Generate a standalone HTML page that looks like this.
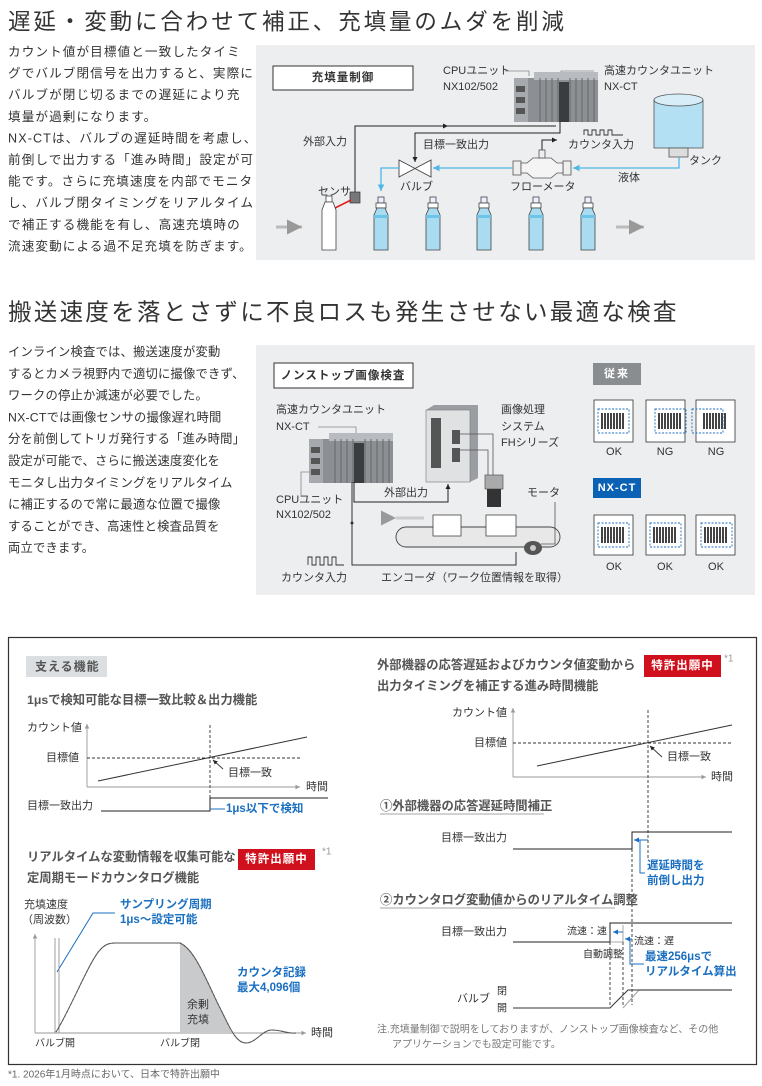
<!DOCTYPE html>
<html><head><meta charset="utf-8"><style>
html,body{margin:0;padding:0;background:#fff;}
svg{display:block;}
text{font-family:"Liberation Sans","Noto Sans CJK JP",sans-serif;dominant-baseline:central;fill:#333;}
.p{font-size:12.6px;letter-spacing:1.1px;fill:#444;}
.p2{font-size:12.3px;letter-spacing:0.2px;fill:#444;}
.s{font-size:11px;fill:#333;}
.b{font-weight:bold;}
.bl{fill:#1a6fc0;font-weight:bold;font-size:11.5px;}
.h3{font-size:12.3px;font-weight:bold;fill:#555;letter-spacing:0px;}
</style></head><body>
<svg width="762" height="1086" viewBox="0 0 762 1086" xmlns="http://www.w3.org/2000/svg">
<defs>
<marker id="ab" markerWidth="6" markerHeight="6" refX="5" refY="3" orient="auto"><path d="M0,0.5 L5,3 L0,5.5z" fill="#222"/></marker>
<marker id="ag" markerWidth="6" markerHeight="6" refX="5" refY="3" orient="auto"><path d="M0,0.5 L5,3 L0,5.5z" fill="#999"/></marker>
<marker id="ac" markerWidth="6" markerHeight="6" refX="5" refY="3" orient="auto"><path d="M0,0.5 L5,3 L0,5.5z" fill="#4bb8e6"/></marker>
<marker id="au" markerWidth="6" markerHeight="6" refX="5" refY="3" orient="auto"><path d="M0,0.5 L5,3 L0,5.5z" fill="#1a6fc0"/></marker>
<g id="plc">
<rect x="0" y="6" width="84" height="44" fill="#8c9094"/>
<rect x="0" y="6" width="14" height="44" fill="#a6aaae"/>
<rect x="2" y="14" width="9" height="6" fill="#555"/><rect x="2" y="25" width="9" height="6" fill="#555"/><rect x="2" y="36" width="9" height="6" fill="#555"/>
<rect x="20" y="0" width="64" height="8" fill="#b8bcc0"/>
<path d="M26,6V50M32,6V50M38,6V50M44,6V50M56,6V50M62,6V50M68,6V50M74,6V50M80,6V50" stroke="#666" stroke-width="1"/>
<rect x="45" y="10" width="10" height="40" fill="#3a3d40"/>
</g>
<g id="bot">
<rect x="-3" y="0" width="6" height="6" fill="#eef" stroke="#444" stroke-width="0.8"/>
<rect x="-5" y="6" width="10" height="5" fill="#fff" stroke="#444" stroke-width="0.8"/>
<path d="M-4,11 L-7,18 L-7,53 L7,53 L7,18 L4,11z" fill="#a9dcf0" stroke="#444" stroke-width="0.8"/>
<rect x="-7" y="18" width="14" height="3" fill="#6cc4e8"/>
</g>
<g id="cod"><path d="M8,6V22M11,6V22M14,6V22M17,6V22M20,6V22M23,6V22M26,6V22M29,6V22" stroke="#444" stroke-width="2"/></g>
</defs>

<!-- headings -->
<text x="8" y="22" style="font-size:22.5px;letter-spacing:2.9px;fill:#333">遅延・変動に合わせて補正、充填量のムダを削減</text>
<text x="8" y="312" style="font-size:23.5px;letter-spacing:2.3px;fill:#333">搬送速度を落とさずに不良ロスも発生させない最適な検査</text>

<!-- para 1 -->
<g class="p">
<text x="8" y="52">カウント値が目標値と一致したタイミ</text>
<text x="8" y="73.6">グでバルブ閉信号を出力すると、実際に</text>
<text x="8" y="95.2">バルブが閉じ切るまでの遅延により充</text>
<text x="8" y="116.8">填量が過剰になります。</text>
<text x="8" y="138.4">NX-CTは、バルブの遅延時間を考慮し、</text>
<text x="8" y="160">前倒しで出力する「進み時間」設定が可</text>
<text x="8" y="181.6">能です。さらに充填速度を内部でモニタ</text>
<text x="8" y="203.2">し、バルブ閉タイミングをリアルタイム</text>
<text x="8" y="224.8">で補正する機能を有し、高速充填時の</text>
<text x="8" y="246.4">流速変動による過不足充填を防ぎます。</text>
</g>
<!-- para 2 -->
<g class="p2">
<text x="8" y="352">インライン検査では、搬送速度が変動</text>
<text x="8" y="373.8">するとカメラ視野内で適切に撮像できず、</text>
<text x="8" y="395.6">ワークの停止か減速が必要でした。</text>
<text x="8" y="417.4">NX-CTでは画像センサの撮像遅れ時間</text>
<text x="8" y="439.2">分を前倒してトリガ発行する「進み時間」</text>
<text x="8" y="461">設定が可能で、さらに搬送速度変化を</text>
<text x="8" y="482.8">モニタし出力タイミングをリアルタイム</text>
<text x="8" y="504.6">に補正するので常に最適な位置で撮像</text>
<text x="8" y="526.4">することができ、高速性と検査品質を</text>
<text x="8" y="548.2">両立できます。</text>
</g>

<!-- panel 1 -->
<rect x="256" y="45" width="499" height="215" fill="#eceef0"/>
<rect x="273" y="66" width="140" height="24" fill="#fff" stroke="#333" stroke-width="1"/>
<text x="343" y="78" text-anchor="middle" style="font-size:11.5px;font-weight:bold;letter-spacing:1px">充填量制御</text>
<text x="443" y="71" class="s">CPUユニット</text><text x="443" y="87" class="s">NX102/502</text>
<text x="604" y="71" class="s">高速カウンタユニット</text><text x="604" y="87" class="s">NX-CT</text>
<path d="M505,71H529V76M594,71H561V76" stroke="#888" fill="none" stroke-width="0.8"/>
<use href="#plc" x="514" y="72"/>
<rect x="654" y="100" width="49" height="48" fill="#b3e0f2" stroke="#555" stroke-width="0.8"/>
<ellipse cx="678.5" cy="100" rx="24.5" ry="6" fill="#d7eef8" stroke="#555" stroke-width="0.8"/>
<rect x="669" y="148" width="19" height="9" fill="#ddd" stroke="#555" stroke-width="0.8"/>
<text x="689" y="161" class="s">タンク</text>
<path d="M679,157V168H573" stroke="#4bb8e6" stroke-width="1.3" fill="none" marker-end="url(#ac)"/>
<text x="618" y="178" class="s">液体</text>
<rect x="513" y="161" width="8" height="14" fill="#eee" stroke="#555" stroke-width="0.8"/>
<rect x="563" y="161" width="8" height="14" fill="#eee" stroke="#555" stroke-width="0.8"/>
<path d="M521,163H527L533,158H551L557,163H563V173H557L551,178H533L527,173H521z" fill="#f4f4f4" stroke="#555" stroke-width="0.8"/>
<rect x="539" y="150" width="6" height="8" fill="#eee" stroke="#555" stroke-width="0.8"/>
<text x="510" y="187" class="s">フローメータ</text>
<path d="M513,168H433" stroke="#4bb8e6" stroke-width="1.3" fill="none" marker-end="url(#ac)"/>
<path d="M399,160L431,177V160L399,177z" fill="#fff" stroke="#444" stroke-width="0.9"/>
<text x="400" y="187" class="s">バルブ</text>
<path d="M399,168H381V191" stroke="#4bb8e6" stroke-width="1.3" fill="none" marker-end="url(#ac)"/>
<path d="M560,122V133H415V162" stroke="#222" stroke-width="1" fill="none" marker-end="url(#ab)"/>
<path d="M355,192V126H556" stroke="#222" stroke-width="1" fill="none"/>
<path d="M440,126H448" stroke="#222" marker-end="url(#ab)"/>
<path d="M542,150V140H557" stroke="#222" stroke-width="1" fill="none" marker-end="url(#ab)"/>
<text x="303" y="142" class="s">外部入力</text>
<text x="423" y="145" class="s">目標一致出力</text>
<path d="M584,135V130H588V135H592V130H596V135H600V130H604V135H608V130H612V135H623" stroke="#333" fill="none" stroke-width="0.9"/>
<text x="568" y="145" class="s">カウンタ入力</text>
<text x="318" y="192" class="s">センサ</text>
<rect x="350" y="192" width="10" height="11" fill="#777" stroke="#333" stroke-width="0.7"/>
<path d="M351,200L333,209" stroke="#e02020" stroke-width="1.6"/>
<g transform="translate(329,196)"><rect x="-3" y="0" width="6" height="6" fill="#fff" stroke="#444" stroke-width="0.8"/><path d="M-4,6 L-7,14 L-7,54 L7,54 L7,14 L4,6z" fill="#fff" stroke="#444" stroke-width="0.8"/></g>
<use href="#bot" x="381" y="197"/><use href="#bot" x="433" y="197"/><use href="#bot" x="484" y="197"/><use href="#bot" x="536" y="197"/><use href="#bot" x="588" y="197"/>
<path d="M276,227H302" stroke="#bbb" stroke-width="3" marker-end="url(#ag)"/>
<path d="M616,227H644" stroke="#bbb" stroke-width="3" marker-end="url(#ag)"/>

<!-- panel 2 -->
<rect x="256" y="345" width="499" height="250" fill="#eceef0"/>
<rect x="274" y="363" width="139" height="25" fill="#fff" stroke="#333" stroke-width="1"/>
<text x="343" y="376" text-anchor="middle" style="font-size:11.5px;font-weight:bold;letter-spacing:1px">ノンストップ画像検査</text>
<text x="276" y="410" class="s">高速カウンタユニット</text><text x="276" y="427" class="s">NX-CT</text>
<path d="M318,427H356V434" stroke="#888" fill="none" stroke-width="0.8"/>
<use href="#plc" x="309" y="433"/>
<path d="M311,472H301V497" stroke="#888" fill="none" stroke-width="0.8"/>
<text x="276" y="500" class="s">CPUユニット</text><text x="276" y="515" class="s">NX102/502</text>
<path d="M426,410L434,405H478V478L470,482H426z" fill="#9a9ea2"/>
<rect x="426" y="410" width="44" height="72" fill="#dfe1e3" stroke="#777" stroke-width="0.6"/>
<rect x="431" y="418" width="10" height="50" fill="#555"/><rect x="452" y="430" width="8" height="14" fill="#555"/><rect x="452" y="448" width="8" height="14" fill="#555"/>
<text x="501" y="410" class="s">画像処理</text><text x="501" y="427" class="s">システム</text><text x="501" y="443" class="s">FHシリーズ</text>
<path d="M460,434H493V476M460,450H488V476" stroke="#555" fill="none" stroke-width="0.8"/>
<rect x="485" y="475" width="18" height="14" fill="#aaa" stroke="#555" stroke-width="0.7"/>
<rect x="487" y="489" width="14" height="18" fill="#333"/>
<text x="384" y="493" class="s">外部出力</text>
<path d="M354,482V502H448V484" stroke="#222" fill="none" stroke-width="1" marker-end="url(#ab)"/>
<path d="M406,527H550A10,10 0 0 1 550,547H406A10,10 0 0 1 406,527z" fill="#e8e8e8" stroke="#444" stroke-width="0.9"/>
<rect x="433" y="515" width="28" height="21" fill="#fff" stroke="#444" stroke-width="0.8"/>
<rect x="486" y="515" width="30" height="21" fill="#fff" stroke="#444" stroke-width="0.8"/>
<path d="M396,518H424" stroke="#ccc" stroke-width="3" marker-start="url(#ag)"/>
<ellipse cx="533" cy="548" rx="9" ry="7" fill="#555"/><circle cx="533" cy="548" r="3" fill="#ccc"/>
<text x="527" y="493" class="s">モータ</text>
<path d="M555,502V544H541" stroke="#555" fill="none" stroke-width="0.8"/>
<path d="M352,482V565H516V552" stroke="#333" fill="none" stroke-width="1"/>
<circle cx="352" cy="523" r="1.5" fill="#333"/>
<path d="M308,565V557H312V565H316V557H320V565H324V557H328V565H332V557H336V565H344" stroke="#333" fill="none" stroke-width="0.9"/>
<text x="281" y="578" class="s">カウンタ入力</text>
<text x="381" y="578" class="s">エンコーダ（ワーク位置情報を取得）</text>
<rect x="593" y="363" width="48" height="22" fill="#8a8d90"/>
<text x="617" y="374" text-anchor="middle" style="font-size:11px;font-weight:bold;fill:#fff;letter-spacing:2px">従来</text>
<rect x="594" y="400" width="39" height="42" fill="#fff" stroke="#333" stroke-width="0.8"/>
<rect x="646" y="400" width="39" height="42" fill="#fff" stroke="#333" stroke-width="0.8"/>
<rect x="696" y="400" width="39" height="42" fill="#fff" stroke="#333" stroke-width="0.8"/>
<use href="#cod" x="594" y="407"/><use href="#cod" x="651" y="407"/><use href="#cod" x="696" y="407"/>
<rect x="598" y="409" width="31" height="24" fill="none" stroke="#1a6fc0" stroke-dasharray="2,1.5" stroke-width="0.9"/>
<rect x="655" y="409" width="31" height="24" fill="none" stroke="#1a6fc0" stroke-dasharray="2,1.5" stroke-width="0.9"/>
<rect x="692" y="409" width="31" height="24" fill="none" stroke="#1a6fc0" stroke-dasharray="2,1.5" stroke-width="0.9"/>
<g class="s" text-anchor="middle"><text x="614" y="452">OK</text><text x="665" y="452">NG</text><text x="716" y="452">NG</text></g>
<rect x="593" y="478" width="48" height="20" fill="#0b62b5"/>
<text x="617" y="488" text-anchor="middle" style="font-size:11px;font-weight:bold;fill:#fff;letter-spacing:1px">NX-CT</text>
<rect x="594" y="515" width="39" height="40" fill="#fff" stroke="#333" stroke-width="0.8"/>
<rect x="646" y="515" width="39" height="40" fill="#fff" stroke="#333" stroke-width="0.8"/>
<rect x="696" y="515" width="39" height="40" fill="#fff" stroke="#333" stroke-width="0.8"/>
<use href="#cod" x="594" y="521"/><use href="#cod" x="646" y="521"/><use href="#cod" x="697" y="521"/>
<rect x="598" y="523" width="31" height="24" fill="none" stroke="#1a6fc0" stroke-dasharray="2,1.5" stroke-width="0.9"/>
<rect x="650" y="523" width="31" height="24" fill="none" stroke="#1a6fc0" stroke-dasharray="2,1.5" stroke-width="0.9"/>
<rect x="701" y="523" width="31" height="24" fill="none" stroke="#1a6fc0" stroke-dasharray="2,1.5" stroke-width="0.9"/>
<g class="s" text-anchor="middle"><text x="614" y="567">OK</text><text x="665" y="567">OK</text><text x="716" y="567">OK</text></g>

<!-- bottom frame -->
<rect x="8.5" y="637.5" width="748" height="427" fill="none" stroke="#333" stroke-width="1.2"/>
<rect x="26" y="656" width="81" height="21" fill="#dcdfe2"/>
<text x="35" y="666.5" style="font-size:12px;font-weight:bold;fill:#555;letter-spacing:1px">支える機能</text>
<text x="27" y="700" class="h3">1μsで検知可能な目標一致比較＆出力機能</text>
<text x="27" y="728" class="s">カウント値</text>
<text x="46" y="758" class="s">目標値</text>
<path d="M87,787V724" stroke="#999" stroke-width="0.9" marker-end="url(#ag)"/>
<path d="M87,787H300" stroke="#999" stroke-width="0.9" marker-end="url(#ag)"/>
<text x="306" y="787" class="s">時間</text>
<path d="M87,758H302" stroke="#333" stroke-dasharray="3,2" stroke-width="0.9"/>
<path d="M98,781L307,737" stroke="#333" stroke-width="1"/>
<path d="M210,725V810" stroke="#333" stroke-dasharray="3,2" stroke-width="0.9"/>
<path d="M223,769L213,760" stroke="#333" stroke-width="0.9" marker-end="url(#ab)"/>
<text x="228" y="773" class="s">目標一致</text>
<text x="27" y="806" class="s">目標一致出力</text>
<path d="M101,811H210V798H328" stroke="#222" stroke-width="1" fill="none"/>
<path d="M210,809H225" stroke="#1a6fc0" stroke-width="1"/>
<text x="226" y="809" class="bl">1μs以下で検知</text>
<text x="27" y="857" class="h3">リアルタイムな変動情報を収集可能な</text>
<text x="27" y="878" class="h3">定周期モードカウンタログ機能</text>
<rect x="238" y="849" width="77" height="21" fill="#d0101c"/>
<text x="276.5" y="859.5" text-anchor="middle" style="font-size:11.5px;font-weight:bold;fill:#fff;letter-spacing:1px">特許出願中</text>
<text x="322" y="852" style="font-size:10px;fill:#999">*1</text>
<text x="24" y="905" class="s">充填速度</text>
<text x="22" y="920" class="s">（周波数）</text>
<text x="120" y="905" class="bl">サンプリング周期</text>
<text x="120" y="920" class="bl">1μs～設定可能</text>
<path d="M115,913H93L57,972" stroke="#1a6fc0" fill="none" stroke-width="1"/>
<path d="M35,1033V934" stroke="#999" stroke-width="0.9" marker-end="url(#ag)"/>
<path d="M35,1033H306" stroke="#999" stroke-width="0.9" marker-end="url(#ag)"/>
<text x="311" y="1033" class="s">時間</text>
<path d="M55,938V1033M59,938V1033" stroke="#888" stroke-width="0.8"/>
<path d="M180,943C196,950 208,985 222,1012C228,1024 230,1030 232,1033H180z" fill="#c8cacc"/>
<path d="M56,1032C70,1010 90,960 100,950C105,944 110,943 115,943H180C196,950 208,985 222,1012C230,1028 236,1043 246,1043C256,1043 262,1030 272,1030C282,1030 288,1034 296,1033" stroke="#333" fill="none" stroke-width="1.1" stroke-dasharray="1,3.5"/>
<path d="M56,1032C70,1010 90,960 100,950C105,944 110,943 115,943H180C196,950 208,985 222,1012C230,1028 236,1043 246,1043C256,1043 262,1030 272,1030C282,1030 288,1034 296,1033" stroke="#555" fill="none" stroke-width="1"/>
<text x="187" y="1005" class="s">余剰</text><text x="187" y="1020" class="s">充填</text>
<text x="237" y="973" class="bl">カウンタ記録</text>
<text x="237" y="988" class="bl">最大4,096個</text>
<text x="35" y="1044" class="s" style="font-size:10px">バルブ開</text>
<text x="160" y="1044" class="s" style="font-size:10px">バルブ閉</text>

<!-- right column -->
<text x="377" y="665" class="h3">外部機器の応答遅延およびカウンタ値変動から</text>
<text x="377" y="686" class="h3">出力タイミングを補正する進み時間機能</text>
<rect x="644" y="655" width="77" height="22" fill="#d0101c"/>
<text x="682.5" y="666" text-anchor="middle" style="font-size:11.5px;font-weight:bold;fill:#fff;letter-spacing:1px">特許出願中</text>
<text x="724" y="659" style="font-size:10px;fill:#999">*1</text>
<text x="507" y="713" class="s" text-anchor="end">カウント値</text>
<text x="507" y="743" class="s" text-anchor="end">目標値</text>
<path d="M513,777V708" stroke="#999" stroke-width="0.9" marker-end="url(#ag)"/>
<path d="M513,777H706" stroke="#999" stroke-width="0.9" marker-end="url(#ag)"/>
<text x="711" y="777" class="s">時間</text>
<path d="M513,743H732" stroke="#333" stroke-dasharray="3,2" stroke-width="0.9"/>
<path d="M537,766L732,725" stroke="#333" stroke-width="1"/>
<path d="M648,710V860" stroke="#333" stroke-dasharray="3,2" stroke-width="0.9"/>
<path d="M662,757L650,746" stroke="#333" stroke-width="0.9" marker-end="url(#ab)"/>
<text x="667" y="757" class="s">目標一致</text>
<text x="380" y="806" class="h3">①外部機器の応答遅延時間補正</text>
<path d="M380,814H544" stroke="#888" stroke-width="0.8"/>
<text x="507" y="838" class="s" text-anchor="end">目標一致出力</text>
<path d="M513,849H632V832H732" stroke="#222" stroke-width="1" fill="none"/>
<path d="M648,840H634" stroke="#1a6fc0" stroke-width="1" marker-end="url(#au)"/>
<path d="M640,840V873H645" stroke="#1a6fc0" stroke-width="1" fill="none"/>
<text x="647" y="866" class="bl">遅延時間を</text>
<text x="647" y="881" class="bl">前倒し出力</text>
<path d="M632,849V1005" stroke="#333" stroke-dasharray="3,2" stroke-width="0.9"/>
<text x="380" y="900" class="h3">②カウンタログ変動値からのリアルタイム調整</text>
<path d="M380,908H615" stroke="#888" stroke-width="0.8"/>
<text x="507" y="932" class="s" text-anchor="end">目標一致出力</text>
<path d="M513,942H610V923H732" stroke="#222" stroke-width="1" fill="none"/>
<path d="M610,942H623V925" stroke="#aaa" stroke-width="1" fill="none"/>
<text x="607" y="932" class="s" text-anchor="end" style="font-size:10px">流速：速</text>
<path d="M623,932H613" stroke="#1a6fc0" stroke-width="1" marker-end="url(#au)"/>
<path d="M632,939H625" stroke="#1a6fc0" stroke-width="1" marker-end="url(#au)"/>
<path d="M629,939H630V964H644" stroke="#1a6fc0" stroke-width="1" fill="none"/>
<text x="634" y="942" class="s" style="font-size:10px">流速：遅</text>
<text x="645" y="957" class="bl">最速256μsで</text>
<text x="645" y="972" class="bl">リアルタイム算出</text>
<text x="583" y="955" class="s" style="font-size:10px">自動調整</text>
<path d="M610,942V1006M623,942V1006" stroke="#333" stroke-dasharray="3,2" stroke-width="0.9"/>
<text x="457" y="999" class="s">バルブ</text>
<text x="497" y="992" class="s" style="font-size:10px">閉</text>
<text x="497" y="1009" class="s" style="font-size:10px">開</text>
<path d="M623,1008L639,990H732" stroke="#aaa" stroke-width="1.2" fill="none"/>
<path d="M513,1008H610L628,990H732" stroke="#333" stroke-width="1" fill="none"/>
<text x="377" y="1030" style="font-size:10px;fill:#777">注.充填量制御で説明をしておりますが、ノンストップ画像検査など、その他</text>
<text x="392" y="1045" style="font-size:10px;fill:#777">アプリケーションでも設定可能です。</text>

<text x="8" y="1075" style="font-size:10px;fill:#666">*1. 2026年1月時点において、日本で特許出願中</text>
</svg>
</body></html>
